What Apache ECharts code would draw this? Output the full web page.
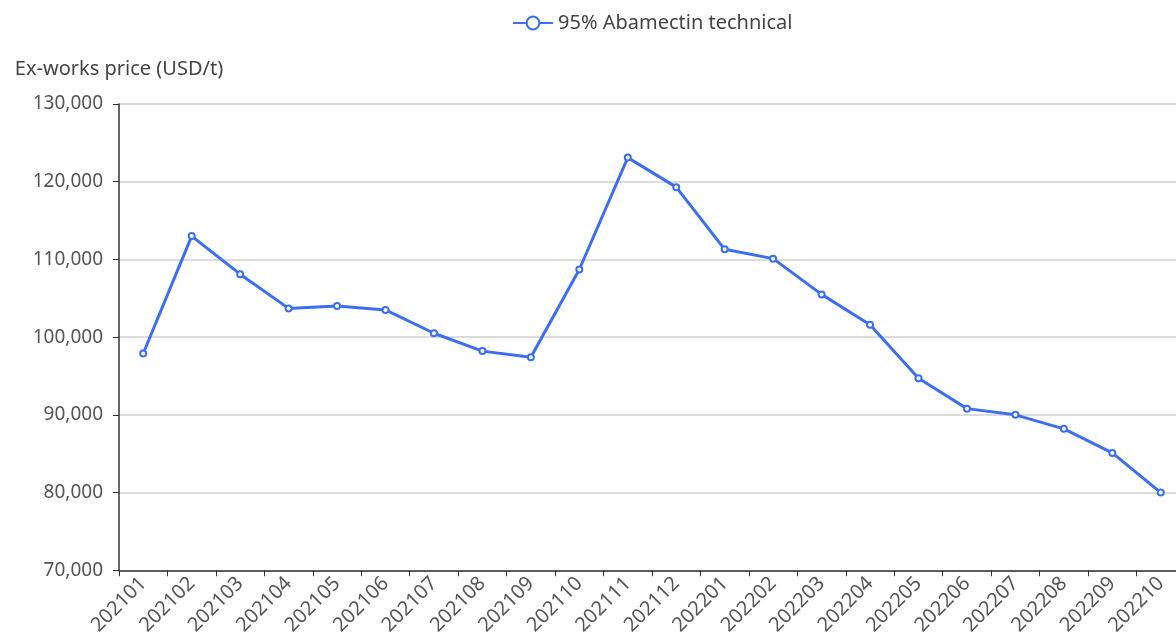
<!DOCTYPE html>
<html>
<head>
<meta charset="utf-8">
<script src="https://cdn.jsdelivr.net/npm/echarts@6/dist/echarts.min.js"></script>
<style>
html,body{margin:0;padding:0;background:#fff;overflow:hidden;width:1176px;height:638px;}
#chart{width:1200px;height:638px;}
</style>
</head>
<body>
<div id="chart"></div>
<script>
const categories = ['202101','202102','202103','202104','202105','202106','202107','202108','202109','202110','202111','202112','202201','202202','202203','202204','202205','202206','202207','202208','202209','202210'];
const seriesName = '95% Abamectin technical';
const prices = [97900,113000,108100,103700,104000,103500,100500,98200,97400,108700,123100,119300,111300,110100,105500,101600,94700,90800,90000,88200,85100,80000];
const yAxisName = 'Ex-works price (USD/t)';
const yMin = 70000, yMax = 130000, yStep = 10000;

const font = '"Noto Sans", "DejaVu Sans", sans-serif';
const chart = echarts.init(document.getElementById('chart'));
chart.setOption({
  animation: false,
  textStyle: {fontFamily: font},
  legend: {
    data: [seriesName],
    left: 507, top: 8,
    itemWidth: 40, itemHeight: 16, itemGap: 6,
    textStyle: {fontSize: 20, color: '#444', fontFamily: font}
  },
  grid: {left: 119, top: 104, width: 1066, height: 468, containLabel: false},
  xAxis: {
    type: 'category',
    data: categories,
    boundaryGap: true,
    axisLine: {lineStyle: {color: '#333', width: 1.5}},
    axisTick: {show: true, length: 6, lineStyle: {color: '#333'}},
    axisLabel: {rotate: 45, fontSize: 20, color: '#555', margin: 10, interval: 0, fontFamily: font},
    splitLine: {show: false}
  },
  yAxis: {
    type: 'value',
    min: yMin, max: yMax, interval: yStep,
    name: yAxisName,
    nameLocation: 'end',
    nameGap: 25,
    nameTextStyle: {fontSize: 20, color: '#444', fontFamily: font},
    axisLine: {show: true, lineStyle: {color: '#333', width: 1.5}},
    axisTick: {show: true, length: 6, lineStyle: {color: '#333'}},
    axisLabel: {fontSize: 19, color: '#555', margin: 16, fontFamily: font,
      formatter: v => v.toLocaleString('en-US')},
    splitLine: {lineStyle: {color: '#d0d0d0', width: 1.5}}
  },
  series: [{
    name: seriesName,
    type: 'line',
    data: prices,
    symbol: 'emptyCircle',
    symbolSize: 6,
    itemStyle: {color: '#3b6ff0', borderWidth: 1.5},
    lineStyle: {color: '#3b6ff0', width: 3}
  }]
});
</script>
</body>
</html>
